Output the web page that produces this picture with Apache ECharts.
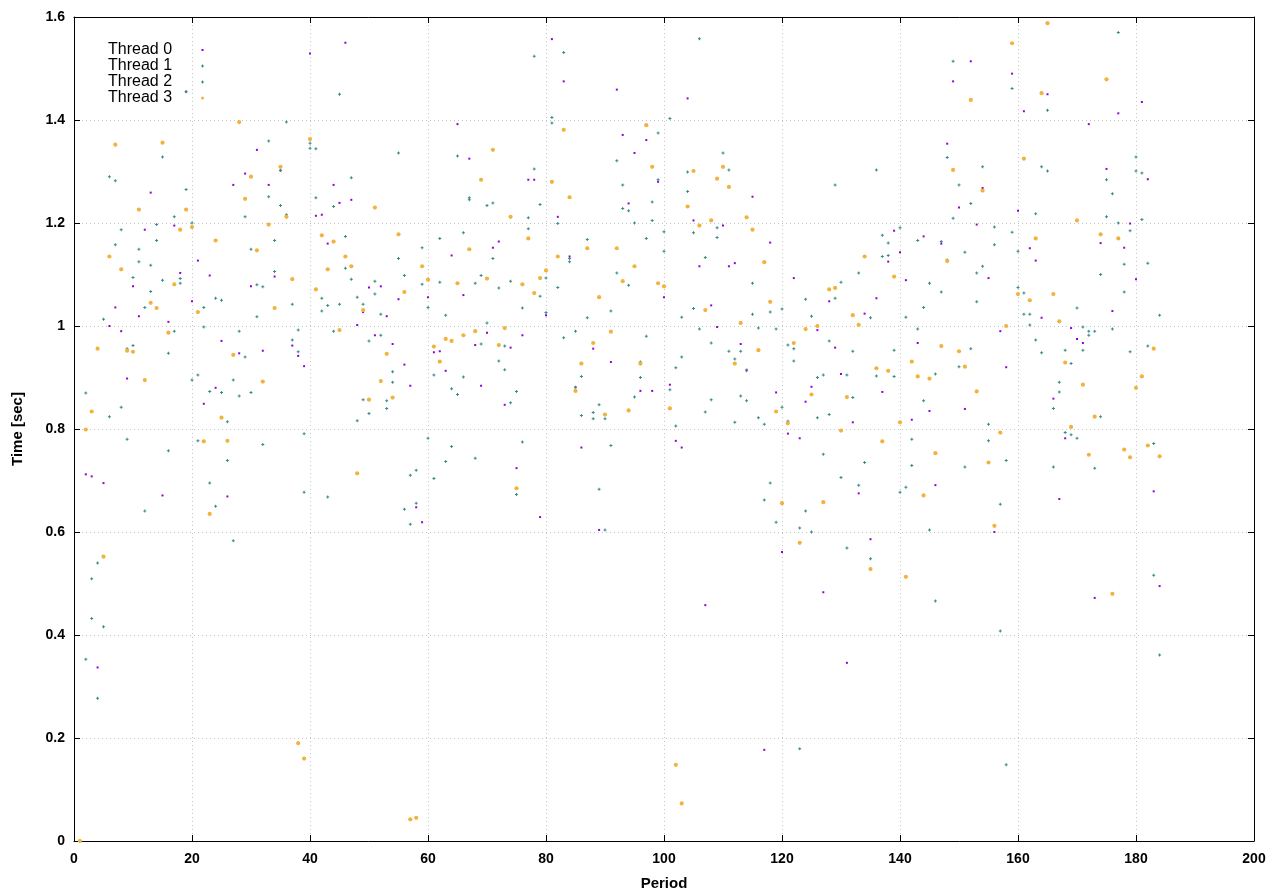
<!DOCTYPE html>
<html>
<head>
<meta charset="utf-8">
<script src="https://cdn.jsdelivr.net/npm/echarts@6/dist/echarts.min.js"></script>
<style>
html,body{margin:0;padding:0;background:#fff;}
#chart{width:1280px;height:896px;}
</style>
</head>
<body>
<div id="chart"></div>
<script>
// Series names
const seriesNames = ['Thread 0', 'Thread 1', 'Thread 2', 'Thread 3'];

// Period 1..184 values (seconds)
const thread0 = [
0,0.712,0.708,0.337,0.695,1.0,1.036,0.99,0.898,1.077,
1.019,1.187,1.259,1.035,0.671,1.008,1.195,1.103,1.455,1.048,
1.127,0.849,1.098,0.88,0.971,0.669,1.274,0.947,1.296,1.077,
1.342,0.952,1.274,1.096,1.302,1.212,0.962,0.942,0.922,1.529,
1.214,1.216,1.16,1.274,1.239,1.55,1.245,1.002,1.027,1.075,
0.982,1.077,1.019,0.965,1.052,0.925,0.884,0.648,0.619,1.056,
0.949,0.951,0.913,1.137,1.392,1.06,1.325,0.963,0.884,0.987,
1.152,1.164,0.847,0.958,0.724,0.982,1.284,1.284,0.629,1.021,
1.557,1.212,1.475,1.135,0.881,0.764,1.151,0.956,0.604,0.828,
0.93,1.459,1.371,1.238,1.336,0.874,1.361,0.874,1.28,1.056,
0.886,0.777,0.764,1.442,1.205,1.116,0.458,1.04,0.998,1.195,
1.116,1.122,0.965,0.915,1.251,0.953,0.177,1.162,0.871,0.561,
0.791,1.093,0.782,0.853,0.882,0.992,0.483,1.048,0.958,0.907,
0.346,0.813,0.675,1.024,0.586,1.054,0.872,1.125,1.185,1.143,
1.089,0.818,0.967,1.174,0.835,0.691,1.16,1.354,1.475,1.23,
0.839,1.514,1.197,1.268,1.093,0.6,0.99,0.92,1.49,1.224,
1.417,1.151,1.127,1.016,1.45,0.859,0.664,0.782,0.996,0.975,
0.967,1.392,0.472,1.161,1.305,1.029,1.413,1.152,1.199,1.091,
1.435,1.285,0.679,0.495
];
const thread1 = [
0,0.87,0.509,0.54,1.013,1.29,1.282,1.187,0.956,1.094,
1.149,1.036,1.118,1.197,1.328,0.947,1.212,1.092,1.265,1.2,
0.905,1.036,0.873,1.054,1.05,0.814,0.895,0.99,1.212,1.149,
1.08,1.076,1.359,1.166,1.302,1.396,1.042,0.992,0.791,1.355,
1.344,1.054,1.04,1.232,1.45,1.174,1.288,1.056,1.042,0.971,
1.087,1.023,0.855,0.911,1.336,1.098,0.71,0.72,1.152,1.036,
0.905,1.17,1.021,0.878,1.33,1.181,1.249,1.083,1.098,1.234,
1.239,1.074,0.961,1.087,0.873,1.035,1.21,1.524,1.236,1.093,
1.405,1.199,1.531,1.131,0.99,0.902,1.168,0.832,0.847,0.82,
1.029,1.321,1.274,1.224,1.2,0.93,1.17,1.241,1.375,1.183,
1.403,0.919,1.017,1.299,1.181,1.558,1.133,0.967,1.191,1.336,
1.303,0.936,0.951,0.913,1.083,0.996,0.809,1.027,0.994,1.033,
0.963,0.956,0.608,1.052,1.019,0.9,0.905,0.971,1.274,1.085,
0.905,0.951,1.103,0.735,1.016,1.303,1.176,1.161,0.953,1.191,
1.017,0.78,1.166,1.036,1.083,0.907,1.164,1.327,1.514,1.274,
1.143,1.238,1.103,1.309,0.809,1.192,0.654,0.739,1.461,1.145,
1.064,1.023,1.218,1.309,1.419,0.84,0.891,0.953,0.927,1.035,
0.998,0.99,0.99,1.1,1.284,1.257,1.57,1.12,1.185,1.328,
1.297,1.122,0.772,1.021
];
const thread2 = [
0,0.353,0.432,0.277,0.416,0.824,1.158,0.842,0.78,0.962,
1.125,0.641,1.067,1.166,1.089,0.758,0.99,1.083,1.455,0.895,
0.777,0.998,0.695,0.65,0.871,0.739,0.583,0.864,0.94,0.871,
1.018,0.77,1.251,1.106,1.234,1.216,0.973,0.95,0.677,1.345,
1.249,1.029,0.668,0.99,1.042,1.112,1.091,0.816,0.857,0.83,
1.062,0.982,0.84,0.891,1.131,0.644,0.615,0.656,1.081,0.782,
0.704,1.085,0.737,0.766,0.867,0.901,1.245,0.743,0.965,1.006,
1.131,0.932,0.915,0.851,0.673,0.775,1.189,1.305,1.058,1.026,
1.394,1.075,0.977,1.125,0.881,0.826,1.016,0.82,0.683,0.604,
0.768,1.103,1.228,1.079,0.862,0.9,0.98,1.205,1.284,1.145,
0.876,0.806,0.94,1.261,1.034,0.994,0.833,0.857,1.172,1.309,
0.951,0.813,0.864,0.855,1.023,0.822,0.662,0.695,0.619,0.842,
0.815,0.932,0.179,0.641,0.6,0.822,0.751,0.828,1.054,0.706,
0.569,0.861,0.691,1.135,0.548,0.903,1.135,1.137,0.902,0.677,
0.687,0.729,0.994,0.855,0.604,0.466,1.066,1.128,1.209,0.921,
0.726,0.956,1.047,1.116,0.777,1.158,0.408,0.148,1.182,1.075,
1.023,1.002,0.973,0.948,1.301,0.726,0.872,0.793,0.789,0.782,
0.953,0.982,0.724,0.824,1.212,0.994,1.2,1.066,0.95,1.301,
1.207,0.961,0.516,0.361
];
const thread3 = [
0.0,0.799,0.834,0.956,0.552,1.135,1.352,1.11,0.952,0.95,
1.226,0.895,1.045,1.035,1.356,0.987,1.081,1.187,1.226,1.192,
1.027,0.776,0.635,1.166,0.822,0.777,0.944,1.396,1.247,1.29,
1.147,0.892,1.197,1.035,1.309,1.212,1.091,0.19,0.16,1.363,
1.071,1.176,1.11,1.164,0.992,1.135,1.116,0.714,1.031,0.857,
1.23,0.893,0.946,0.861,1.178,1.066,0.042,0.045,1.116,1.09,
0.96,0.931,0.975,0.971,1.083,0.982,1.149,0.99,1.284,1.092,
1.342,0.963,0.996,1.212,0.685,1.081,1.17,1.064,1.093,1.108,
1.28,1.135,1.381,1.25,0.874,0.927,1.151,0.967,1.056,0.828,
0.989,1.151,1.087,0.836,1.116,0.927,1.39,1.309,1.083,1.077,
0.84,0.148,0.073,1.232,1.301,1.195,1.031,1.205,1.286,1.309,
1.27,0.927,1.006,1.211,1.187,0.953,1.124,1.047,0.834,0.656,
0.811,0.967,0.579,0.994,0.867,1.0,0.658,1.071,1.074,0.797,
0.862,1.021,1.002,1.135,0.528,0.918,0.776,0.913,1.096,0.813,
0.513,0.931,0.902,0.671,0.898,0.753,0.961,1.126,1.303,0.951,
0.921,1.439,0.873,1.263,0.735,0.612,0.793,1.0,1.549,1.062,
1.325,1.05,1.17,1.452,1.588,1.062,1.009,0.929,0.804,1.205,
0.886,0.75,0.824,1.178,1.479,0.48,1.17,0.76,0.745,0.88,
0.902,0.768,0.956,0.747
];
const xTicks = [0, 20, 40, 60, 80, 100, 120, 140, 160, 180, 200];
const yTicks = [0, 0.2, 0.4, 0.6, 0.8, 1.0, 1.2, 1.4, 1.6];

const colors = ['#9400d3', '#358c88', '#358c88', '#f2b33d'];
const plusPath = 'path://M1,0h1v3h-1z M0,1h3v1h-3z';
const dotIcon = 'path://M0.5,0.5h2v2h-2z M0,0h0.01v0.01h-0.01z M2.99,2.99h0.01v0.01h-0.01z';

function pairs(arr) {
  return arr.map((v, i) => [i + 1, v]);
}

const font = '"Liberation Sans", Arial, Helvetica, sans-serif';
const chart = echarts.init(document.getElementById('chart'), null, {renderer: 'canvas'});

const gridLine = {show: true, lineStyle: {color: '#c4c4c4', width: 1, type: [1, 3]}};
const tickStyle = {show: true, inside: true, length: 6, lineStyle: {color: '#000', width: 1}};
const axisLine = {show: true, onZero: false, lineStyle: {color: '#000', width: 1}};

chart.setOption({
  animation: false,
  backgroundColor: '#fff',
  textStyle: {fontFamily: font},
  grid: {left: 74, right: 26, top: 17, bottom: 51, containLabel: false},
  legend: {
    orient: 'vertical',
    left: 103,
    top: 37,
    align: 'right',
    itemGap: 0,
    itemWidth: 3,
    itemHeight: 3,
    data: [
      {name: seriesNames[0], icon: dotIcon},
      {name: seriesNames[1], icon: plusPath},
      {name: seriesNames[2], icon: plusPath},
      {name: seriesNames[3], icon: 'circle'}
    ],
    formatter: function (n) { return '{t|' + n + '}'; },
    textStyle: {
      fontFamily: font,
      fontSize: 16,
      color: '#000',
      rich: {t: {fontFamily: font, fontSize: 16, color: '#000', lineHeight: 16, padding: [0, 24, 0, 0]}}
    }
  },
  xAxis: [
    {
      type: 'value', position: 'bottom',
      min: xTicks[0], max: xTicks[xTicks.length - 1], interval: xTicks[1] - xTicks[0],
      name: 'Period', nameLocation: 'middle', nameGap: 35,
      nameTextStyle: {fontFamily: font, fontSize: 15, fontWeight: 'bold', color: '#000'},
      axisLine: axisLine, axisTick: tickStyle,
      axisLabel: {fontFamily: font, fontSize: 14, fontWeight: 'bold', color: '#000', margin: 11},
      splitLine: gridLine
    },
    {
      type: 'value', position: 'top',
      min: xTicks[0], max: xTicks[xTicks.length - 1], interval: xTicks[1] - xTicks[0],
      axisLine: axisLine, axisTick: tickStyle, axisLabel: {show: false}, splitLine: {show: false}
    }
  ],
  yAxis: [
    {
      type: 'value', position: 'left',
      min: yTicks[0], max: yTicks[yTicks.length - 1], interval: 0.2,
      name: 'Time [sec]', nameLocation: 'middle', nameGap: 49, nameRotate: 90,
      nameTextStyle: {fontFamily: font, fontSize: 15, fontWeight: 'bold', color: '#000'},
      axisLine: axisLine, axisTick: tickStyle,
      axisLabel: {fontFamily: font, fontSize: 14, fontWeight: 'bold', color: '#000', margin: 9},
      splitLine: gridLine
    },
    {
      type: 'value', position: 'right',
      min: yTicks[0], max: yTicks[yTicks.length - 1], interval: 0.2,
      axisLine: axisLine, axisTick: tickStyle, axisLabel: {show: false}, splitLine: {show: false}
    }
  ],
  series: [
    {name: seriesNames[0], type: 'scatter', symbol: 'rect', symbolSize: 2,
     itemStyle: {color: colors[0], opacity: 1}, data: pairs(thread0), clip: false},
    {name: seriesNames[1], type: 'scatter', symbol: plusPath, symbolSize: 3,
     itemStyle: {color: colors[1], opacity: 1}, data: pairs(thread1), clip: false},
    {name: seriesNames[2], type: 'scatter', symbol: plusPath, symbolSize: 3,
     itemStyle: {color: colors[2], opacity: 1}, data: pairs(thread2), clip: false},
    {name: seriesNames[3], type: 'scatter', symbol: 'circle', symbolSize: 4.2,
     itemStyle: {color: colors[3], opacity: 1}, data: pairs(thread3), clip: false}
  ]
});
</script>
</body>
</html>
